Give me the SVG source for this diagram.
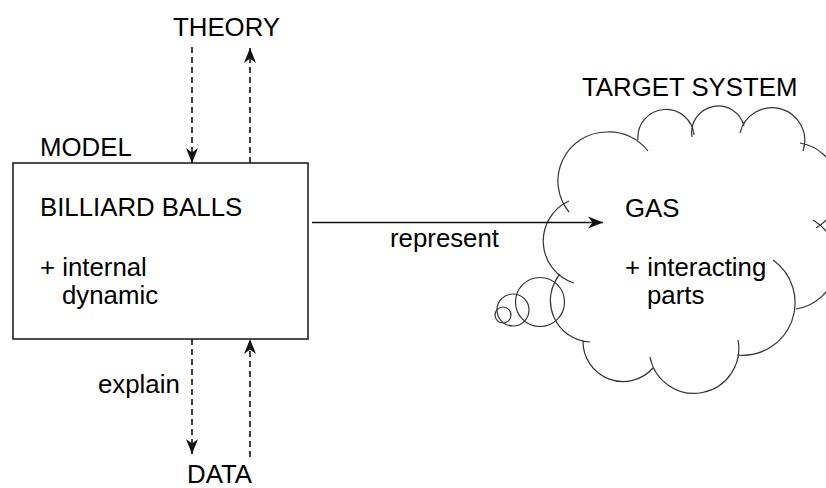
<svg xmlns="http://www.w3.org/2000/svg" width="826" height="488" viewBox="0 0 826 488">
  <style>
    text { font-family: "Liberation Sans", Arial, sans-serif; font-size: 25.8px; fill: #000; }
    .box { fill: #fff; stroke: #222; stroke-width: 1.6; }
    .cloud { fill: none; stroke: #333; stroke-width: 1.2; }
    .solid { fill: none; stroke: #111; stroke-width: 1.6; }
    .dash { fill: none; stroke: #111; stroke-width: 1.6; stroke-dasharray: 6 4; }
  </style>
  <defs>
    <marker id="head" markerUnits="userSpaceOnUse" markerWidth="17" markerHeight="15" viewBox="-16 -7.5 17 15" refX="0" refY="0" orient="auto">
      <path d="M0,0 L-15,-6 L-10.5,0 L-15,6 Z" fill="#111"/>
    </marker>
  </defs>

  <rect width="826" height="488" fill="#fff"/>

  <!-- model box -->
  <g id="model">
    <rect class="box" x="13" y="163" width="295" height="176"/>
    <text x="40" y="156">MODEL</text>
    <text x="40" y="216">BILLIARD BALLS</text>
    <text x="40" y="276">+ internal</text>
    <text x="62" y="304">dynamic</text>
  </g>

  <g id="theory">
    <text x="173" y="36">THEORY</text>
  </g>

  <g id="data">
    <text x="187" y="483">DATA</text>
  </g>

  <!-- target system cloud -->
  <g id="target">
    <path class="cloud" d="
      M574,283 A44,44 0 0 1 569,201
      M569,212 A49,49 0 0 1 607,132 A49,49 0 0 1 648,151
      M638,140 A28,28 0 0 1 694,135
      M692,137 A26.6,26.6 0 0 1 744,126
      M740,133 A32.8,32.8 0 1 1 803,151
      M800,143 A46,46 0 0 1 816,228
      M813,220 A48,48 0 0 1 796,309
      M773,260 A52.5,52.5 0 0 1 737,355
      M738,340 A44.5,44.5 0 1 1 650,357
      M653,368 A40,40 0 0 1 583,341
      M590,342 A41.5,41.5 0 0 1 560,274"/>
    <circle class="cloud" cx="540" cy="302" r="24.5"/>
    <circle class="cloud" cx="513" cy="310" r="16"/>
    <circle class="cloud" cx="503" cy="315" r="8"/>
    <text x="582" y="96">TARGET SYSTEM</text>
    <text x="625" y="217">GAS</text>
    <text x="625" y="276">+ interacting</text>
    <text x="647" y="304">parts</text>
  </g>

  <!-- connectors -->
  <g id="connectors">
    <line class="dash" x1="192" y1="47" x2="192" y2="163" marker-end="url(#head)"/>
    <line class="dash" x1="250" y1="163" x2="250" y2="48" marker-end="url(#head)"/>
    <line class="dash" x1="192" y1="339" x2="192" y2="454" marker-end="url(#head)"/>
    <line class="dash" x1="250" y1="457" x2="250" y2="339" marker-end="url(#head)"/>
    <line class="solid" x1="312" y1="222.5" x2="603" y2="222.5" marker-end="url(#head)"/>
    <text x="98" y="393">explain</text>
    <text x="390" y="247">represent</text>
  </g>
</svg>
